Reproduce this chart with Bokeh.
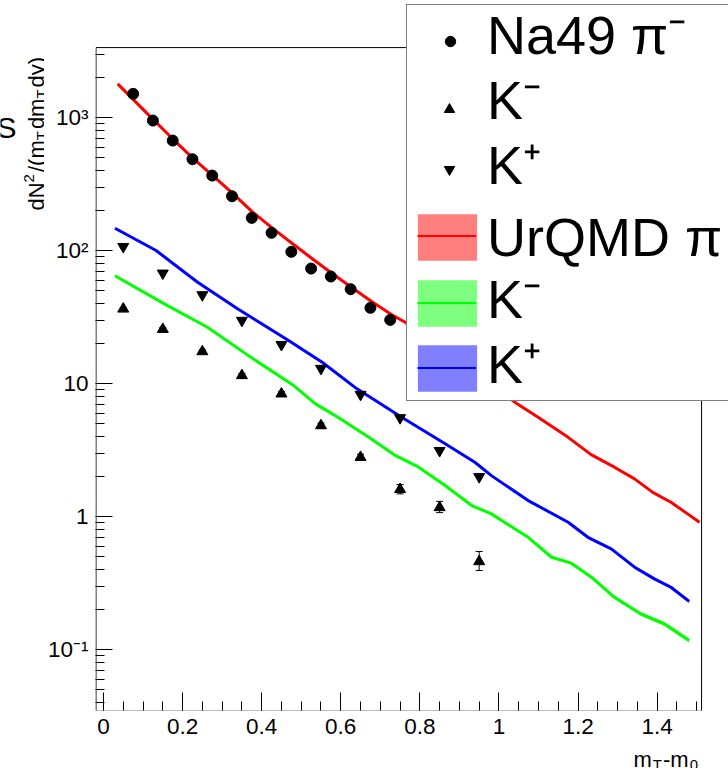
import math
from bokeh.plotting import figure
from bokeh.layouts import row, column
from bokeh.models import (Range1d, FixedTicker, Legend, LegendItem, Whisker, ColumnDataSource, TeeHead,
                          Label)
from bokeh.embed import file_html
from bokeh.resources import INLINE

FONT = "Liberation Sans"

# ---------------- data ----------------
na49_pim_x = [0.075, 0.125, 0.175, 0.225, 0.275, 0.325, 0.375, 0.425, 0.475, 0.525, 0.575, 0.625, 0.675, 0.725]
na49_pim_y = [1507, 949, 671, 486, 366, 256, 176, 136, 97.8, 73.2, 63.8, 51.2, 37.1, 30.1]

na49_kaon_x = [0.05, 0.15, 0.25, 0.35, 0.45, 0.55, 0.65, 0.75, 0.85, 0.95]
na49_km_y = [36.4, 25.6, 17.4, 11.5, 8.37, 4.83, 2.79, 1.60, 1.17, 0.459]
na49_km_lo = [35.5, 24.9, 16.9, 11.1, 8.05, 4.62, 2.64, 1.48, 1.07, 0.393]
na49_km_hi = [37.3, 26.3, 17.9, 11.9, 8.69, 5.04, 2.94, 1.74, 1.30, 0.546]
na49_kp_y = [107, 67.5, 46.4, 29.8, 19.6, 12.97, 8.27, 5.52, 3.13, 1.99]

urqmd_pi_x = [0.036, 0.124, 0.175, 0.223, 0.274, 0.324, 0.375, 0.424, 0.474, 0.523, 0.574, 0.624, 0.677,
              0.728, 0.763, 1.044, 1.099, 1.175, 1.233, 1.292, 1.343, 1.389, 1.435, 1.477, 1.507]
urqmd_pi_y = [1791, 977, 692, 504, 371, 274, 197, 150, 115, 89.1, 68.7, 53.6, 41.6,
              33.0, 28.9, 7.11, 5.58, 3.94, 2.92, 2.35, 1.92, 1.52, 1.28, 1.047, 0.906]
urqmd_pi_err = [0.010, 0.008, 0.008, 0.008, 0.008, 0.008, 0.008, 0.008, 0.008, 0.008, 0.008, 0.008, 0.008,
                0.008, 0.008, 0.010, 0.010, 0.012, 0.012, 0.014, 0.015, 0.016, 0.018, 0.020, 0.025]

urqmd_km_x = [0.029, 0.154, 0.263, 0.372, 0.481, 0.536, 0.586, 0.671, 0.738, 0.797, 0.864, 0.931, 0.981,
              1.074, 1.133, 1.183, 1.234, 1.292, 1.359, 1.418, 1.481]
urqmd_km_y = [64.6, 39.7, 26.5, 15.8, 9.66, 7.03, 5.74, 3.94, 2.88, 2.35, 1.71, 1.21, 1.047,
              0.698, 0.494, 0.446, 0.350, 0.247, 0.185, 0.156, 0.117]
urqmd_km_err = [0.010, 0.010, 0.010, 0.010, 0.012, 0.012, 0.012, 0.014, 0.014, 0.015, 0.016, 0.018, 0.018,
                0.020, 0.022, 0.024, 0.026, 0.030, 0.032, 0.035, 0.040]

urqmd_kp_x = [0.029, 0.133, 0.238, 0.339, 0.469, 0.553, 0.641, 0.754, 0.864, 0.939, 0.981, 1.074, 1.175,
              1.225, 1.284, 1.343, 1.393, 1.435, 1.481]
urqmd_kp_y = [147.2, 100.0, 57.8, 36.5, 21.0, 14.45, 9.12, 5.58, 3.52, 2.56, 2.03, 1.318, 0.906,
              0.698, 0.571, 0.416, 0.340, 0.294, 0.230]
urqmd_kp_err = [0.008, 0.008, 0.008, 0.008, 0.010, 0.010, 0.010, 0.012, 0.012, 0.014, 0.014, 0.016, 0.018,
                0.020, 0.022, 0.024, 0.026, 0.028, 0.030]

x_tick_values = [0, 0.2, 0.4, 0.6, 0.8, 1, 1.2, 1.4]
y_tick_values = [0.1, 1, 10, 100, 1000]
y_tick_labels = ["10\u207b\u00b9", "1", "10", "10\u00b2", "10\u00b3"]

legend_labels = ["Na49 \u03c0\u207b", "K\u207b", "K\u207a", "UrQMD \u03c0", "K\u207b", "K\u207a"]

# axis window of the histogram frame
X_LO, X_HI = -0.0202, 1.5124
Y_LO, Y_HI = 0.0348, 3357

# ---------------- layout constants (screen pixels) ----------------
STRIP_W = 44
BOTTOM_H = 20
TOTAL_W, TOTAL_H = 728, 768
FRAME_L, FRAME_B = 93, 710          # histogram frame: left / bottom edge
PX_PER_X = 396.7                    # pixels per unit of m_T-m_0
PX_PER_DEC = 133.0                  # pixels per decade

# plotting area reaches the top and right canvas edges so that the legend box
# can overlap the histogram frame the way the original does
x_end = X_LO + (TOTAL_W - FRAME_L) / PX_PER_X
y_end = 10 ** (math.log10(Y_LO) + FRAME_B / PX_PER_DEC)

p = figure(width=TOTAL_W - STRIP_W, height=TOTAL_H - BOTTOM_H,
           x_range=Range1d(X_LO, x_end), y_range=Range1d(Y_LO, y_end),
           y_axis_type="log", output_backend="svg", toolbar_location=None,
           min_border_left=FRAME_L - STRIP_W, min_border_right=0,
           min_border_top=0, min_border_bottom=TOTAL_H - BOTTOM_H - FRAME_B)
p.grid.visible = False
p.outline_line_color = None
p.background_fill_color = "white"
p.border_fill_color = "white"

xa = p.xaxis[0]
ya = p.yaxis[0]
xa.ticker = FixedTicker(ticks=x_tick_values, minor_ticks=[round(0.05 * i, 2) for i in range(31)])
ya.ticker = FixedTicker(ticks=y_tick_values,
                        minor_ticks=[m * 10.0 ** e for e in range(-2, 4) for m in range(2, 10)
                                     if m * 10.0 ** e < Y_HI])
xa.major_label_overrides = {0: "0", 1: "1"}
ya.major_label_overrides = dict(zip(y_tick_values, y_tick_labels))
for ax, tin in ((xa, 18), (ya, 17)):
    ax.major_tick_in = tin
    ax.major_tick_out = 0
    ax.minor_tick_in = 9
    ax.minor_tick_out = 0
    ax.major_label_text_font = FONT
    ax.major_label_text_font_size = "22.5px"
    ax.major_label_text_color = "black"
    ax.axis_line_color = None
    ax.major_tick_line_color = "black"
    ax.minor_tick_line_color = "black"
xa.major_label_standoff = 8
ya.major_label_standoff = 7

# histogram frame (half a pixel inside the plotting area so it is not clipped)
half_x = 0.5 / PX_PER_X
half_y = 10 ** (0.5 / PX_PER_DEC)
p.quad(left=[X_LO + half_x], right=[X_HI], bottom=[Y_LO / half_y], top=[Y_HI],
       fill_alpha=0, line_color="black", line_width=1)


def band(xs, ys, errs, color):
    lo = [y * (1 - e) for y, e in zip(ys, errs)]
    hi = [y * (1 + e) for y, e in zip(ys, errs)]
    r_band = p.varea(x=xs, y1=lo, y2=hi, fill_color=color, fill_alpha=0.5)
    r_line = p.line(xs, ys, line_color=color, line_width=3)
    return r_band, r_line


red_b, red_l = band(urqmd_pi_x, urqmd_pi_y, urqmd_pi_err, "#ff0000")
grn_b, grn_l = band(urqmd_km_x, urqmd_km_y, urqmd_km_err, "#00ff00")
blu_b, blu_l = band(urqmd_kp_x, urqmd_kp_y, urqmd_kp_err, "#0000ff")

src_km = ColumnDataSource(dict(x=na49_kaon_x, y=na49_km_y, lo=na49_km_lo, hi=na49_km_hi))
r_pim = p.scatter(na49_pim_x, na49_pim_y, marker="circle", size=11, color="black")
r_km = p.scatter("x", "y", source=src_km, marker="triangle", size=11, color="black")
r_kp = p.scatter(na49_kaon_x, na49_kp_y, marker="inverted_triangle", size=11, color="black")
# invisible renderer for legend entries that have no key glyph of their own
ghost = p.scatter(na49_pim_x[:1], na49_pim_y[:1], marker="circle", size=1, fill_alpha=0, line_alpha=0)

wh = Whisker(source=src_km, base="x", upper="hi", lower="lo", line_color="black", line_width=1,
             upper_head=TeeHead(size=7, line_color="black", line_width=1),
             lower_head=TeeHead(size=7, line_color="black", line_width=1))
p.add_layout(wh)


# ---------------- legend, assembled from single-entry legends ----------------
def add_legend(renderer, label, left, bottom, **kw):
    opts = dict(margin=0, padding=0, spacing=0, border_line_color=None, background_fill_alpha=0,
                label_text_font=FONT, label_text_font_size="1px", label_text_color="black")
    opts.update(kw)
    leg = Legend(items=[LegendItem(label=label, renderers=[renderer])],
                 location=(left - FRAME_L, FRAME_B - bottom), **opts)
    p.add_layout(leg)
    return leg


# the legend box
add_legend(ghost, " ", 404, 401, glyph_width=340, glyph_height=395, label_standoff=0,
           label_width=0, label_height=0, border_line_color="black", border_line_width=1,
           background_fill_color="white", background_fill_alpha=1)

# marker keys (26 px key box -> marker size 10.4)
for rend, cx, cy in ((r_pim, 448.3, 40.7), (r_km, 446.7, 108.7), (r_kp, 446.7, 168.5)):
    add_legend(rend, " ", cx - 13, cy + 13, glyph_width=26, glyph_height=26,
               label_standoff=0, label_width=0, label_height=0)

# band keys (area keys are inset by 10 %)
for rend, top in ((red_b, 213.3), (grn_b, 279.3), (blu_b, 345.0)):
    add_legend(rend, " ", 415 - 7.4, top - 5.8 + 58, glyph_width=74, glyph_height=58,
               label_standoff=0, label_width=0, label_height=0)
for rend, cy in ((red_l, 236.3), (grn_l, 302.7), (blu_l, 368.3)):
    add_legend(rend, " ", 415, cy + 1, glyph_width=59, glyph_height=2,
               label_standoff=0, label_width=0, label_height=0)

# legend texts (text starts at x = 485; entry height of a 54 px label is about 69.5 px)
TEXT_H = 69.5
for lab, cap_mid in zip(legend_labels, (34.5, 99.2, 165.0, 232.5, 298.3, 363.3)):
    add_legend(ghost, lab, 460, cap_mid + 0.6 + TEXT_H / 2, glyph_width=20, glyph_height=20,
               label_standoff=5, label_text_font_size="54px")

W = {"d": .556, "N": .722, "2": .556, "/": .278, "(": .333, "m": .833, "T": .611,
     "y": .5, ")": .333, "-": .333, "0": .556}


def tw(t, size):
    return sum(W.get(c, .556) for c in t) * size


def strip_fig(w, h):
    f = figure(width=w, height=h, x_range=Range1d(0, 1), y_range=Range1d(0, 1),
               output_backend="svg", toolbar_location=None, min_border=0,
               min_border_left=0, min_border_right=0, min_border_top=0, min_border_bottom=0,
               x_axis_location=None, y_axis_location=None)
    f.grid.visible = False
    f.outline_line_color = None
    f.background_fill_color = "white"
    f.border_fill_color = "white"
    return f


def canvas_label(fig, x, y, text, size, angle=0.0, align="left"):
    fig.add_layout(Label(x=x, y=y, x_units="canvas", y_units="canvas", text=text, angle=angle,
                         text_font=FONT, text_font_size=f"{size}px", text_color="black",
                         text_align=align, text_baseline="alphabetic"))


# ---------------- left strip: rotated y title ----------------
s = strip_fig(STRIP_W, TOTAL_H - BOTTOM_H)
ytitle = (("dN", 22, 36, 0), ("2", 15, 28, 2), ("/(m", 22, 36, 0), ("T", 15, 41, 2),
          ("dm", 22, 36, 0), ("T", 15, 41, 2), ("dy)", 22, 36, 0))
cursor = 210  # screen y where the title starts (it reads upwards)
for text, size, bx, gap in ytitle:
    canvas_label(s, bx, cursor, text, size, angle=math.pi / 2)
    cursor -= tw(text, size) + gap

# fragment of a clipped title at the left edge
canvas_label(s, 16, 127, "S", 30, align="right")

# ---------------- bottom strip: x title m_T-m_0 ----------------
b = strip_fig(TOTAL_W, BOTTOM_H)
top_of_strip = TOTAL_H - BOTTOM_H
cx = 633
for text, size, base, gap in (("m", 22, 759, 1), ("T", 15, 764, 1), ("-m", 22, 759, 1), ("0", 15, 764, 0)):
    canvas_label(b, cx, base - top_of_strip, text, size)
    cx += tw(text, size) + gap

layout = column(row(s, p, spacing=0), b, spacing=0)
open("out.html", "w").write(file_html(layout, INLINE))
